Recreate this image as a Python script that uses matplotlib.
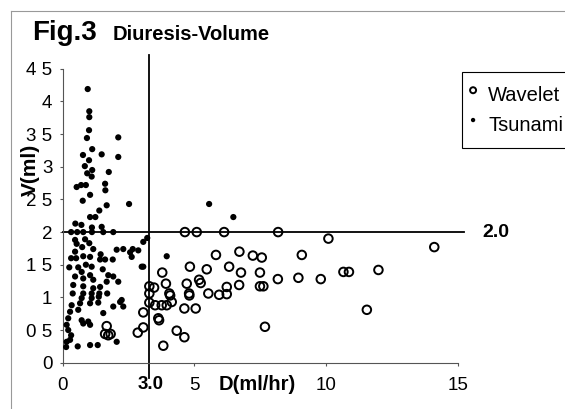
import matplotlib
matplotlib.use('Agg')
import matplotlib.pyplot as plt
from matplotlib.lines import Line2D

plt.rcParams['font.family'] = ['Liberation Sans', 'DejaVu Sans']

# ---- data ----
wavelet_x = [4.64, 5.09, 6.13, 8.18, 10.09, 14.11, 9.08, 8.95, 9.80, 10.66, 10.87, 11.99, 11.55,
             7.22, 7.56, 7.49, 7.49, 7.62, 8.17, 3.78, 4.83, 5.47, 6.32, 6.77,
             3.29, 3.47, 3.92, 4.71, 5.18, 5.24, 6.23, 6.70, 3.29, 4.05, 4.08, 4.80, 4.81, 5.53, 5.94, 6.23,
             3.29, 3.51, 3.76, 3.95, 4.14, 3.06, 4.62, 5.05, 3.63, 3.66, 3.06, 2.85, 4.33, 4.62, 3.82,
             5.82, 6.71, 7.68, 1.67, 1.61, 1.73, 1.82]
wavelet_y = [2.00, 2.00, 2.00, 2.00, 1.90, 1.77, 1.65, 1.30, 1.28, 1.39, 1.39, 1.42, 0.81,
             1.64, 1.61, 1.38, 1.17, 1.17, 1.28, 1.38, 1.47, 1.43, 1.47, 1.38,
             1.17, 1.15, 1.21, 1.21, 1.27, 1.22, 1.16, 1.19, 1.06, 1.06, 1.03, 1.06, 1.03, 1.06, 1.04, 1.05,
             0.92, 0.88, 0.88, 0.88, 0.93, 0.77, 0.83, 0.83, 0.68, 0.65, 0.54, 0.46, 0.49, 0.39, 0.26,
             1.65, 1.70, 0.55, 0.56, 0.44, 0.42, 0.44]

tsunami_x = [0.95, 1.01, 1.01, 1.00, 0.92, 2.11, 1.12, 0.77, 1.48, 2.11, 1.00, 0.84, 1.12, 1.75, 0.93,
             1.10, 0.70, 0.53, 0.88, 1.61, 1.62, 1.04, 0.76, 1.67, 2.52, 1.39, 1.04, 1.24, 0.48, 0.71,
             1.11, 1.48, 5.56, 6.48,
             0.32, 0.55, 0.78, 1.11, 1.54, 1.92,
             3.21, 3.06, 2.87, 2.66, 3.95, 3.06,
             0.47, 0.85, 0.53, 0.74, 1.01, 1.16, 1.44, 2.05, 2.30, 2.56, 0.47, 0.51, 0.78, 1.04, 1.42,
             1.61, 1.90, 0.25, 0.59, 0.88, 1.10, 1.52, 3.00, 2.62,
             0.72, 1.04, 1.73, 1.92, 2.11, 0.47, 0.78, 1.16, 1.67, 0.40, 0.78, 1.16, 1.42, 0.38, 0.78,
             1.10, 1.39, 1.69, 0.72, 1.10, 0.34, 0.66, 1.04, 1.35, 1.92, 2.18, 2.30, 0.28, 0.59, 1.54,
             0.21, 0.72, 0.97, 0.15, 0.78, 1.04, 0.21, 0.32, 0.15, 0.28, 0.13, 0.57, 1.04, 1.33, 2.05,
             2.24, 1.37, 0.32]
tsunami_y = [4.19, 3.85, 3.76, 3.56, 3.44, 3.45, 3.27, 3.18, 3.19, 3.15, 3.10, 3.01, 2.95, 2.92, 2.90,
             2.85, 2.72, 2.69, 2.72, 2.74, 2.64, 2.57, 2.48, 2.41, 2.43, 2.33, 2.23, 2.23, 2.13, 2.11,
             2.07, 2.08, 2.43, 2.23,
             2.00, 2.00, 2.00, 2.00, 2.00, 2.00,
             1.91, 1.85, 1.72, 1.74, 1.63, 1.47,
             1.88, 1.89, 1.82, 1.77, 1.83, 1.74, 1.66, 1.73, 1.74, 1.69, 1.70, 1.60, 1.63, 1.62, 1.58,
             1.58, 1.58, 1.46, 1.46, 1.50, 1.47, 1.43, 1.47, 1.62,
             1.39, 1.34, 1.34, 1.32, 1.24, 1.32, 1.29, 1.27, 1.24, 1.19, 1.17, 1.14, 1.16, 1.06, 1.06,
             1.06, 1.06, 1.06, 0.99, 0.99, 0.88, 0.91, 0.91, 0.92, 0.86, 0.93, 0.86, 0.78, 0.81, 0.76,
             0.68, 0.65, 0.63, 0.58, 0.60, 0.58, 0.50, 0.42, 0.32, 0.35, 0.24, 0.25, 0.27, 0.27, 0.32,
             0.96, 1.01, 1.60]

x_ticks = [0, 5, 10, 15]
x_tick_labels = ['0', '5', '10', '15']
y_ticks = [0, 0.5, 1, 1.5, 2, 2.5, 3, 3.5, 4, 4.5]
y_tick_labels = ['0', '0 5', '1', '1 5', '2', '2 5', '3', '3 5', '4', '4 5']

d_threshold = 3.28
d_threshold_label = '3.0'
v_threshold = 2.0
v_threshold_label = '2.0'

W, H = 565, 409
fig = plt.figure(figsize=(W / 100, H / 100), dpi=100)
ax = fig.add_axes([62.7 / W, 1 - 362.7 / H, (457.7 - 62.7) / W, (362.7 - 68.8) / H])
ax.set_xlim(0, 15)
ax.set_ylim(0, 4.5)

ax.scatter(wavelet_x, wavelet_y, s=38, facecolors='none', edgecolors='black',
           linewidths=1.4, label='Wavelet', zorder=3, clip_on=False)
ax.scatter(tsunami_x, tsunami_y, s=20, color='black', edgecolors='none',
           label='Tsunami', zorder=3, clip_on=False)

# threshold lines
ax.plot([d_threshold, d_threshold], [-0.23, 4.71], color='black', lw=1.3, clip_on=False, zorder=2)
ax.plot([0, 15.25], [v_threshold, v_threshold], color='black', lw=1.3, clip_on=False, zorder=2)
ax.text(16.46, v_threshold, v_threshold_label, fontsize=14, fontweight='bold',
        ha='center', va='center')
ax.text(3.32, -0.33, d_threshold_label, fontsize=13.5, fontweight='bold',
        ha='center', va='center')
ax.text(7.38, -0.33, 'D(ml/hr)', fontsize=14.5, fontweight='bold', ha='center', va='center')

for s in ['top', 'right']:
    ax.spines[s].set_visible(False)
for s in ['left', 'bottom']:
    ax.spines[s].set_color('#555555')
    ax.spines[s].set_linewidth(0.8)

ax.set_xticks(x_ticks)
ax.set_xticklabels(x_tick_labels)
ax.set_yticks(y_ticks)
ax.set_yticklabels(y_tick_labels)
ax.tick_params(axis='x', length=2.5, width=0.8, color='#555555', pad=7.7, labelsize=13.5)
ax.tick_params(axis='y', length=2.5, width=0.8, color='#555555', pad=5, labelsize=13.5)

fig.text(32 / W, 1 - 33 / H, 'Fig.3', fontsize=20, fontweight='bold', ha='left', va='center')
fig.text(113 / W, 1 - 35 / H, 'Diuresis-Volume', fontsize=14.5, fontweight='bold',
         ha='left', va='center')
fig.text(30 / W, 1 - 170 / H, 'V(ml)', fontsize=15, fontweight='bold', rotation=90,
         ha='center', va='center')

leg = fig.legend(loc='upper left', bbox_to_anchor=(462 / W, 1 - 72 / H), frameon=True,
                 fancybox=False, edgecolor='black', framealpha=1, fontsize=14.5,
                 markerscale=0.7, handlelength=0.3, handletextpad=0.6, borderpad=0.4,
                 handleheight=1.9, labelspacing=0.0, borderaxespad=0)
leg.get_frame().set_linewidth(0.8)

# scanned page border
fig.add_artist(Line2D([11 / W, 1], [1 - 11 / H, 1 - 11 / H], transform=fig.transFigure,
                      color='#999999', lw=0.8))
fig.add_artist(Line2D([11 / W, 11 / W], [0, 1 - 11 / H], transform=fig.transFigure,
                      color='#999999', lw=0.8))

fig.savefig('out.png', dpi=100)
